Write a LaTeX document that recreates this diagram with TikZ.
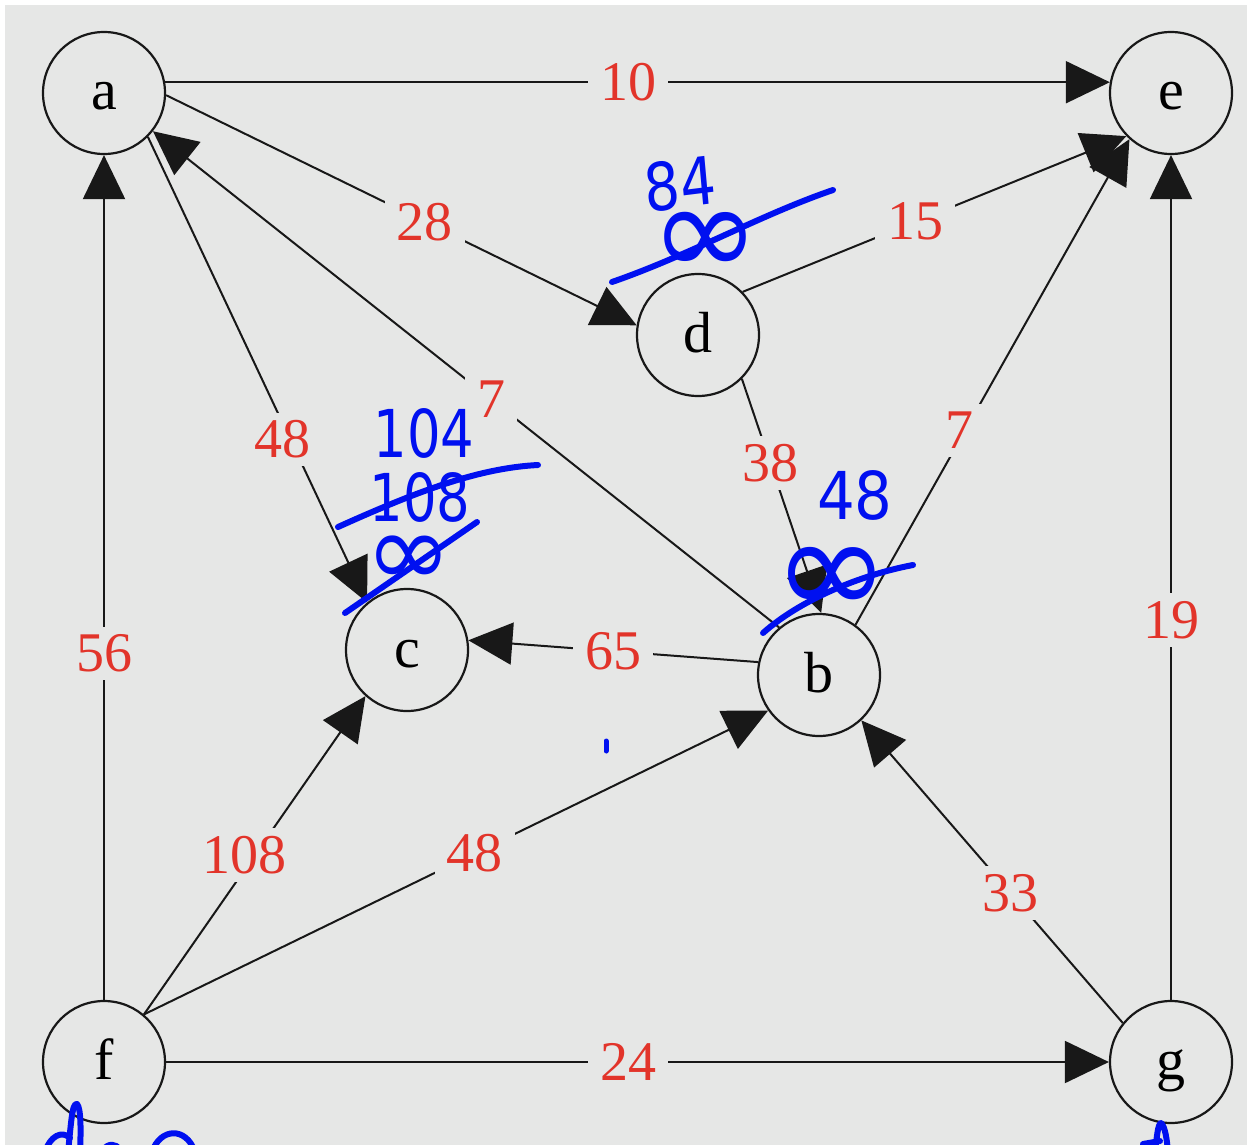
\documentclass[tikz,border=0pt]{standalone}
\usepackage{fontspec}
\setmainfont{Liberation Serif}
\newfontfamily\handfont{DejaVu Sans}
\usetikzlibrary{arrows.meta}
\definecolor{bg}{RGB}{230,231,230}
\definecolor{lblred}{RGB}{226,52,42}
\definecolor{ink}{RGB}{0,16,240}
\definecolor{line}{RGB}{24,24,24}
\begin{document}
\begin{tikzpicture}[x=1pt,y=-1pt,
  vtx/.style={circle, draw=line, line width=2.2pt, minimum size=122pt, inner sep=0pt,
    text height=40pt, text depth=6pt, font=\fontsize{58}{60}\selectfont},
  edge/.style={draw=line, line width=2pt, -{Triangle[length=44pt,width=42pt]}},
  lbl/.style={fill=bg, text=lblred, font=\fontsize{56}{60}\selectfont, inner xsep=12pt, inner ysep=8pt},
  hand/.style={text=ink, inner sep=0pt, font=\handfont\fontsize{66}{66}\selectfont},
  strike/.style={draw=ink, line width=6pt, line cap=round, line join=round}]

\useasboundingbox (0,0) rectangle (1247,1145);
\fill[white] (0,0) rectangle (1247,1145);
\fill[bg] (5,5) rectangle (1247,1145);

% vertices
\node[vtx] (a) at (104,93)   {a};
\node[vtx] (e) at (1171,93)  {e};
\node[vtx] (d) at (698,335)  {d};
\node[vtx] (c) at (407,650)  {c};
\node[vtx] (b) at (819,675)  {b};
\node[vtx] (f) at (104,1062) {f};
\node[vtx] (g) at (1171,1062){g};

% edges
\draw[edge] (a.10)  -- node[lbl,pos=0.49]{10} (e.170);
\draw[edge] (a.-2)  -- node[lbl,pos=0.55]{28} (d.171);
\draw[edge] (d.44)  -- node[lbl,pos=0.45]{15} (e.224);
\draw[edge] (a.-45) -- node[lbl,pos=0.65,xshift=-8pt]{48} (c.130);
\draw[edge] (b.130) -- node[lbl,pos=0.46]{7} (a.-38);
\draw[edge] (d.-45) -- node[lbl,pos=0.36]{38} (b.88);
\draw[edge] (b.54)  -- node[lbl,pos=0.40,xshift=-6pt]{7} (e.228);
\draw[edge] (b.168) -- node[lbl,pos=0.5]{65} (c.9);
\draw[edge] (f.90)  -- node[lbl,pos=0.41]{56} (a.270);
\draw[edge] (f.50)  -- node[lbl,pos=0.5,xshift=-10pt]{108} (c.228);
\draw[edge] (f.50)  -- node[lbl,pos=0.53]{48} (b.215);
\draw[edge] (f.0)   -- node[lbl,pos=0.49]{24} (g.180);
\draw[edge] (g.141) -- node[lbl,pos=0.43]{33} (b.-47);
\draw[edge] (g.90)  -- node[lbl,pos=0.45]{19} (e.270);

% handwritten annotations
\node[hand, xscale=0.85, rotate=6] (n84) at (680,184) {84};
\node[hand, font=\handfont\fontsize{132}{132}\selectfont] (inf1) at (705,244) {∞};
\draw[strike] (612,282) .. controls (690,255) and (760,215) .. (833,190);

\node[hand, xscale=0.8] (n104) at (424,433) {104};
\node[hand, xscale=0.8] (n108) at (420,497) {108};
\draw[strike] (338,527) .. controls (420,490) and (480,468) .. (538,465);
\node[hand, font=\handfont\fontsize{104}{104}\selectfont] (inf2) at (409,561) {∞};
\draw[strike] (345,613) -- (477,522);

\node[hand, xscale=0.9] (n48) at (855,495) {48};
\node[hand, font=\handfont\fontsize{140}{140}\selectfont] (inf3) at (832,581) {∞};
\draw[strike] (763,633) .. controls (800,600) and (860,575) .. (913,565);

\draw[strike, line width=5pt] (606,741) -- (606,751);

\begin{scope}
\clip (0,0) rectangle (1247,1145);
\draw[strike] (68,1152) .. controls (71,1125) and (72,1102) .. (77,1104)
  .. controls (81,1108) and (81,1130) .. (80,1152);
\draw[strike] (45,1152) .. controls (50,1136) and (62,1130) .. (70,1138);
\draw[strike] (103,1150) .. controls (108,1143) and (116,1143) .. (120,1150);
\draw[strike] (152,1152) .. controls (160,1128) and (186,1126) .. (195,1152);
\draw[strike] (1155,1152) .. controls (1157,1135) and (1158,1124) .. (1161,1123)
  .. controls (1165,1126) and (1167,1140) .. (1168,1152);
\draw[strike] (1143,1144) -- (1160,1141);
\end{scope}
\end{tikzpicture}
\end{document}
